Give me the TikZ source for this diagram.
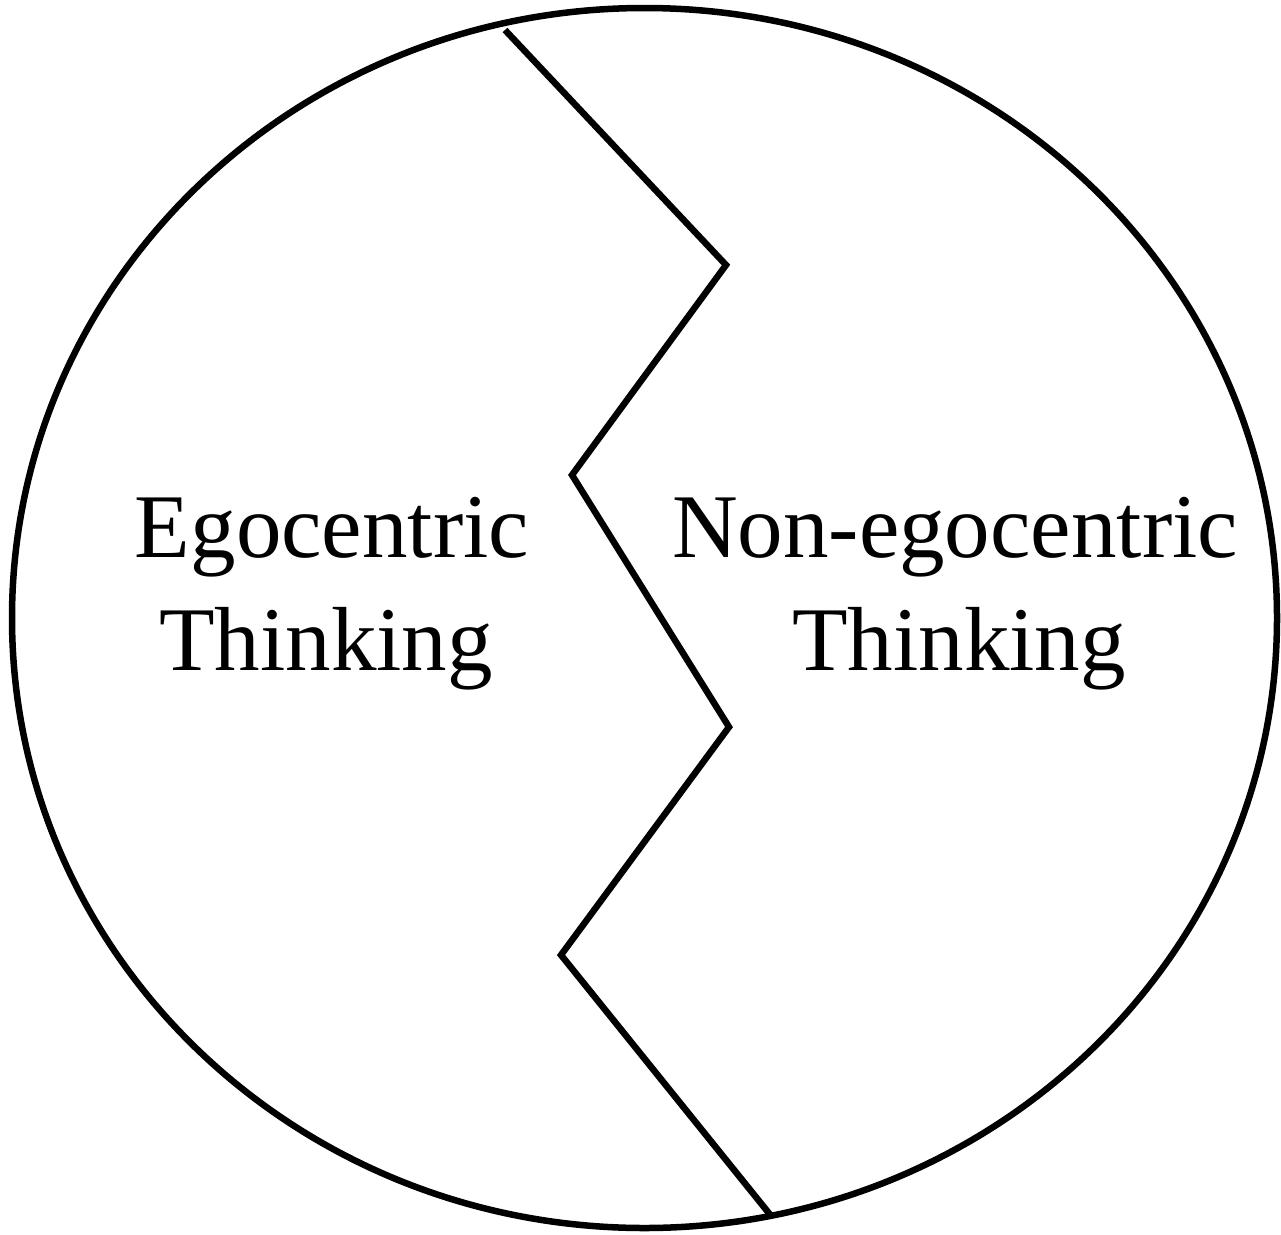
\documentclass[tikz,border=0pt]{standalone}
\usepackage{fontspec}
\setmainfont{Liberation Serif}
\usetikzlibrary{shapes.geometric}
\begin{document}
\begin{tikzpicture}[x=1pt,y=-1pt,
  outline/.style={draw=black,line width=6.5pt},
  label/.style={font=\fontsize{91}{113}\selectfont,anchor=base,inner sep=0pt}]
\useasboundingbox (0,0) rectangle (1281,1234);
\node[outline,ellipse,minimum width=1265pt,minimum height=1220pt,inner sep=0pt] (circ) at (644.5,618) {};
\coordinate (z1) at (505,30);
\coordinate (z2) at (726,265);
\coordinate (z3) at (572,475);
\coordinate (z4) at (729,727);
\coordinate (z5) at (561,955);
\coordinate (z6) at (772,1217);
\draw[outline,line join=miter] (z1) -- (z2) -- (z3) -- (z4) -- (z5) -- (z6);
\node[label] (ego1) at (332,557) {Egocentric};
\node[label] (ego2) at (326,670) {Thinking};
\node[label] (non1) at (955,557) {Non-egocentric};
\node[label] (non2) at (959,670) {Thinking};
\end{tikzpicture}
\end{document}
